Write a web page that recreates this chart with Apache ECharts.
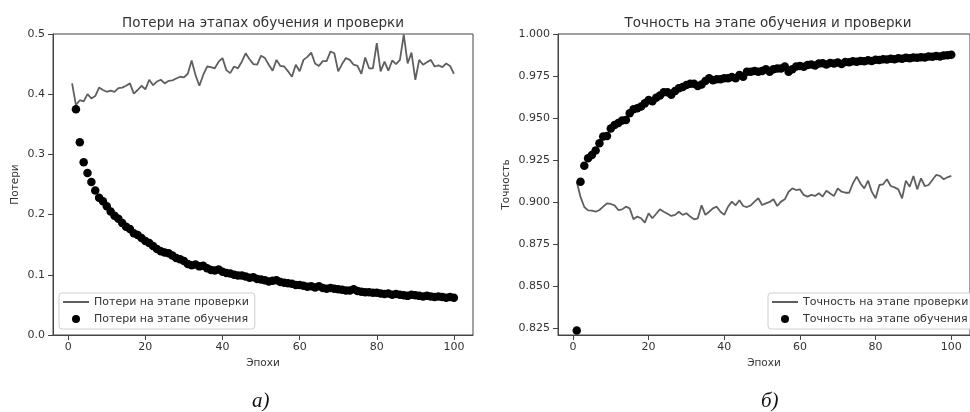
<!DOCTYPE html>
<html>
<head>
<meta charset="utf-8">
<script src="https://cdn.jsdelivr.net/npm/echarts@6/dist/echarts.min.js"></script>
<style>
  html, body { margin: 0; padding: 0; background: #fff; }
  #chart { width: 970px; height: 412px; }
</style>
</head>
<body>
<div id="chart"></div>
<script>
// Epoch numbers 1..100
const epochs = [];
for (let i = 1; i <= 100; i++) epochs.push(i);

// Loss on the validation stage, per epoch
const valLoss = [
  0.418, 0.382, 0.390, 0.388, 0.400, 0.393, 0.397, 0.411, 0.407, 0.404,
  0.406, 0.404, 0.410, 0.411, 0.414, 0.418, 0.401, 0.407, 0.414, 0.408,
  0.424, 0.415, 0.421, 0.424, 0.418, 0.422, 0.423, 0.426, 0.429, 0.428,
  0.434, 0.456, 0.432, 0.414, 0.432, 0.446, 0.445, 0.443, 0.454, 0.460,
  0.440, 0.435, 0.446, 0.443, 0.454, 0.468, 0.458, 0.450, 0.449, 0.464,
  0.460, 0.449, 0.439, 0.457, 0.447, 0.446, 0.438, 0.429, 0.449, 0.438,
  0.457, 0.462, 0.469, 0.451, 0.447, 0.455, 0.455, 0.471, 0.468, 0.438,
  0.450, 0.460, 0.457, 0.449, 0.447, 0.434, 0.461, 0.443, 0.443, 0.485,
  0.438, 0.454, 0.439, 0.456, 0.450, 0.457, 0.499, 0.451, 0.469, 0.424,
  0.457, 0.449, 0.453, 0.457, 0.446, 0.448, 0.445, 0.451, 0.447, 0.434
];

// Loss on the training stage (epoch 1 lies above the visible range)
const trainLoss = [
  null, 0.375, 0.320, 0.287, 0.269, 0.254, 0.240, 0.228, 0.222, 0.214,
  0.205, 0.198, 0.193, 0.186, 0.180, 0.176, 0.169, 0.166, 0.161, 0.156,
  0.153, 0.148, 0.143, 0.139, 0.137, 0.136, 0.132, 0.128, 0.126, 0.123,
  0.118, 0.116, 0.117, 0.114, 0.115, 0.111, 0.108, 0.107, 0.109, 0.105,
  0.103, 0.102, 0.100, 0.099, 0.099, 0.097, 0.095, 0.096, 0.093, 0.092,
  0.091, 0.089, 0.090, 0.091, 0.088, 0.087, 0.086, 0.085, 0.083, 0.083,
  0.082, 0.080, 0.081, 0.079, 0.081, 0.078, 0.077, 0.078, 0.077, 0.076,
  0.075, 0.074, 0.074, 0.076, 0.073, 0.072, 0.071, 0.071, 0.070, 0.070,
  0.069, 0.068, 0.069, 0.067, 0.068, 0.067, 0.066, 0.065, 0.067, 0.066,
  0.065, 0.064, 0.065, 0.064, 0.063, 0.064, 0.063, 0.062, 0.063, 0.062
];

// Accuracy on the validation stage
const valAcc = [
  0.9120, 0.9030, 0.8970, 0.8950, 0.8948, 0.8942, 0.8952, 0.8972, 0.8992, 0.8988,
  0.8980, 0.8952, 0.8956, 0.8972, 0.8962, 0.8897, 0.8913, 0.8903, 0.8877, 0.8933,
  0.8903, 0.8930, 0.8956, 0.8942, 0.8930, 0.8917, 0.8923, 0.8942, 0.8923, 0.8933,
  0.8913, 0.8897, 0.8903, 0.8980, 0.8923, 0.8942, 0.8962, 0.8972, 0.8942, 0.8923,
  0.8972, 0.9002, 0.8980, 0.9010, 0.8976, 0.8970, 0.8980, 0.9002, 0.9022, 0.8982,
  0.8992, 0.9000, 0.9016, 0.8976, 0.9002, 0.9016, 0.9061, 0.9081, 0.9071, 0.9075,
  0.9042, 0.9032, 0.9042, 0.9036, 0.9052, 0.9032, 0.9067, 0.9050, 0.9036, 0.9081,
  0.9061, 0.9055, 0.9055, 0.9111, 0.9151, 0.9110, 0.9081, 0.9127, 0.9060, 0.9022,
  0.9101, 0.9105, 0.9135, 0.9095, 0.9087, 0.9075, 0.9022, 0.9127, 0.9091, 0.9155,
  0.9075, 0.9141, 0.9095, 0.9101, 0.9131, 0.9161, 0.9155, 0.9135, 0.9147, 0.9155
];

// Accuracy on the training stage
const trainAcc = [
  0.8235, 0.9120, 0.9216, 0.9260, 0.9280, 0.9306, 0.9350, 0.9390, 0.9393, 0.9438,
  0.9458, 0.9470, 0.9485, 0.9488, 0.9528, 0.9552, 0.9558, 0.9568, 0.9587, 0.9607,
  0.9600, 0.9620, 0.9634, 0.9653, 0.9653, 0.9638, 0.9660, 0.9677, 0.9685, 0.9696,
  0.9704, 0.9704, 0.9690, 0.9700, 0.9720, 0.9737, 0.9725, 0.9730, 0.9730, 0.9737,
  0.9737, 0.9744, 0.9737, 0.9756, 0.9746, 0.9776, 0.9776, 0.9780, 0.9776, 0.9780,
  0.9790, 0.9776, 0.9790, 0.9795, 0.9795, 0.9806, 0.9776, 0.9790, 0.9806, 0.9810,
  0.9805, 0.9815, 0.9818, 0.9812, 0.9824, 0.9826, 0.9818, 0.9828, 0.9825, 0.9830,
  0.9822, 0.9834, 0.9832, 0.9838, 0.9835, 0.9840, 0.9838, 0.9843, 0.9840, 0.9846,
  0.9845, 0.9850, 0.9848, 0.9852, 0.9850, 0.9856, 0.9853, 0.9858, 0.9855, 0.9860,
  0.9858, 0.9862, 0.9860, 0.9866, 0.9864, 0.9869, 0.9866, 0.9872, 0.9874, 0.9877
];

// Tick values
const epochTicks = [0, 20, 40, 60, 80, 100];
const lossTicks = [0.0, 0.1, 0.2, 0.3, 0.4, 0.5];
const accTicks = [0.825, 0.850, 0.875, 0.900, 0.925, 0.950, 0.975, 1.000];

// Texts
const lossTitle = 'Потери на этапах обучения и проверки';
const accTitle = 'Точность на этапе обучения и проверки';
const xName = 'Эпохи';
const lossName = 'Потери';
const accName = 'Точность';
const valLossName = 'Потери на этапе проверки';
const trainLossName = 'Потери на этапе обучения';
const valAccName = 'Точность на этапе проверки';
const trainAccName = 'Точность на этапе обучения';
const captionA = 'а)';
const captionB = 'б)';

const FONT = 'DejaVu Sans';
const TEXT = '#333';
const SPINE = '#444';
// Thin horizontal bar used as the legend key of a line
const LINE_KEY = 'path://M0,0 L26,0 L26,2 L0,2 Z';

function pairs(xs, ys) {
  const out = [];
  for (let i = 0; i < xs.length; i++) {
    if (ys[i] !== null && ys[i] !== undefined) out.push([xs[i], ys[i]]);
  }
  return out;
}

function xAxisFor(gridIndex) {
  return {
    type: 'value', gridIndex: gridIndex,
    min: -3.95, max: 104.95,
    name: xName, nameLocation: 'middle', nameGap: 21,
    nameTextStyle: { fontFamily: FONT, fontSize: 10.5, color: TEXT },
    axisLine: { show: true, onZero: false, lineStyle: { color: SPINE, width: 1 } },
    axisTick: { show: true, length: 5, lineStyle: { color: SPINE }, customValues: epochTicks },
    axisLabel: { fontFamily: FONT, fontSize: 11, color: TEXT, margin: 7, customValues: epochTicks },
    splitLine: { show: false }
  };
}

function legendFor(left, lineName, dotName) {
  return {
    left: left, top: 293, orient: 'vertical',
    data: [
      { name: lineName, icon: LINE_KEY },
      { name: dotName, icon: 'circle' }
    ],
    itemWidth: 26, itemHeight: 8, itemGap: 3,
    padding: [2, 6, 3, 4],
    borderColor: '#cfcfcf', borderWidth: 1, borderRadius: 3,
    backgroundColor: 'rgba(255,255,255,0.85)',
    selectedMode: false,
    textStyle: { fontFamily: FONT, fontSize: 11, color: TEXT, lineHeight: 14 }
  };
}

const chart = echarts.init(document.getElementById('chart'), null, { renderer: 'canvas' });

const option = {
  backgroundColor: '#fff',
  animation: false,
  title: [
    { text: lossTitle, left: 263, top: 16, textAlign: 'center', padding: 0,
      textStyle: { fontFamily: FONT, fontSize: 13.5, fontWeight: 'normal', color: TEXT } },
    { text: accTitle, left: 768, top: 16, textAlign: 'center', padding: 0,
      textStyle: { fontFamily: FONT, fontSize: 13.5, fontWeight: 'normal', color: TEXT } }
  ],
  grid: [
    { left: 53, top: 34, width: 420, height: 301, show: true, borderColor: SPINE, borderWidth: 1, backgroundColor: 'transparent' },
    { left: 558, top: 34, width: 421, height: 301, show: true, borderColor: SPINE, borderWidth: 1, backgroundColor: 'transparent' }
  ],
  xAxis: [xAxisFor(0), xAxisFor(1)],
  yAxis: [
    {
      type: 'value', gridIndex: 0, min: 0, max: 0.5,
      name: lossName, nameLocation: 'middle', nameGap: 32,
      nameTextStyle: { fontFamily: FONT, fontSize: 10.5, color: TEXT },
      axisLine: { show: true, onZero: false, lineStyle: { color: SPINE, width: 1 } },
      axisTick: { show: true, length: 5, lineStyle: { color: SPINE }, customValues: lossTicks },
      axisLabel: { fontFamily: FONT, fontSize: 11, color: TEXT, margin: 8, customValues: lossTicks,
        formatter: function (v) { return v.toFixed(1); } },
      splitLine: { show: false }
    },
    {
      type: 'value', gridIndex: 1, min: 0.8208, max: 1.0,
      name: accName, nameLocation: 'middle', nameGap: 46,
      nameTextStyle: { fontFamily: FONT, fontSize: 10.5, color: TEXT },
      axisLine: { show: true, onZero: false, lineStyle: { color: SPINE, width: 1 } },
      axisTick: { show: true, length: 5, lineStyle: { color: SPINE }, customValues: accTicks },
      axisLabel: { fontFamily: FONT, fontSize: 11, color: TEXT, margin: 8, customValues: accTicks,
        formatter: function (v) { return v.toFixed(3); } },
      splitLine: { show: false }
    }
  ],
  legend: [
    legendFor(59, valLossName, trainLossName),
    legendFor(768, valAccName, trainAccName)
  ],
  graphic: [
    { type: 'text', left: 252, top: 391,
      style: { text: captionA, font: 'italic 21px "Liberation Serif"', fill: '#111' } },
    { type: 'text', left: 761, top: 391,
      style: { text: captionB, font: 'italic 21px "Liberation Serif"', fill: '#111' } }
  ],
  series: [
    {
      name: valLossName, type: 'line', xAxisIndex: 0, yAxisIndex: 0,
      data: pairs(epochs, valLoss), symbol: 'none', showSymbol: false,
      lineStyle: { color: '#5f5f5f', width: 1.8 }, itemStyle: { color: '#5f5f5f' },
      z: 2
    },
    {
      name: trainLossName, type: 'scatter', xAxisIndex: 0, yAxisIndex: 0,
      data: pairs(epochs, trainLoss), symbol: 'circle', symbolSize: 8.5,
      itemStyle: { color: '#000', opacity: 1 }, z: 3
    },
    {
      name: valAccName, type: 'line', xAxisIndex: 1, yAxisIndex: 1,
      data: pairs(epochs, valAcc), symbol: 'none', showSymbol: false,
      lineStyle: { color: '#5f5f5f', width: 1.8 }, itemStyle: { color: '#5f5f5f' },
      z: 2
    },
    {
      name: trainAccName, type: 'scatter', xAxisIndex: 1, yAxisIndex: 1,
      data: pairs(epochs, trainAcc), symbol: 'circle', symbolSize: 8.5,
      itemStyle: { color: '#000', opacity: 1 }, z: 3
    }
  ]
};

chart.setOption(option);
</script>
</body>
</html>
